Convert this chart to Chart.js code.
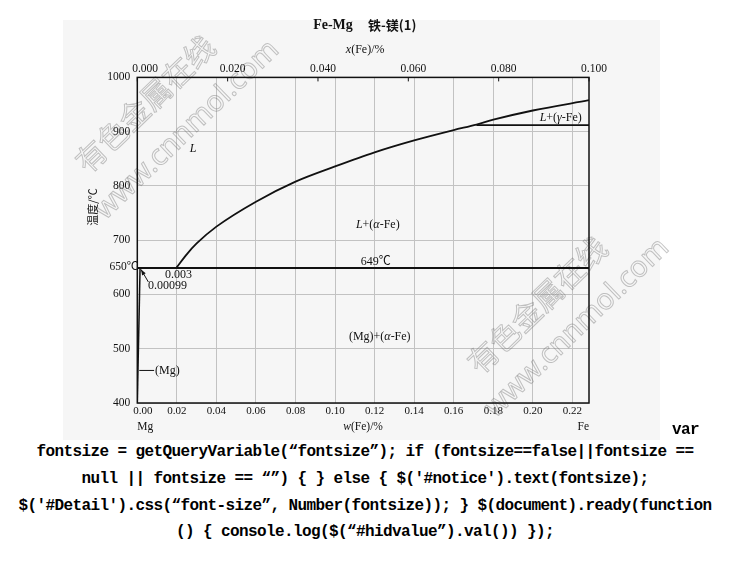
<!DOCTYPE html>
<html>
<head>
<meta charset="utf-8">
<script src="https://cdn.jsdelivr.net/npm/chart.js@4.4.1/dist/chart.umd.min.js"></script>
<style>
  body { margin: 0; background: #fff; width: 730px; height: 581px; overflow: hidden; position: relative; }
  #bg { position: absolute; left: 63px; top: 20px; width: 597px; height: 420px; background: #f6f6f6; }
  #wrap { position: absolute; left: 0; top: 0; width: 730px; height: 440px; }
  .code { position: absolute; left: 0; width: 730px; text-align: center; white-space: pre;
          font: bold 16px "Liberation Mono", "DejaVu Sans Mono", monospace; letter-spacing: -0.6px;
          line-height: 20px; color: #000; }
</style>
</head>
<body>
<div id="bg"></div>
<div id="wrap"><canvas id="phase" width="730" height="440"></canvas></div>
<div class="code" style="left:672px; width:auto; top:420px;">var</div>
<div class="code" style="top:442px;">fontsize = getQueryVariable(“fontsize”); if (fontsize==false||fontsize ==</div>
<div class="code" style="top:469px;">null || fontsize == “”) { } else { $('#notice').text(fontsize);</div>
<div class="code" style="top:496px;">$('#Detail').css(“font-size”, Number(fontsize)); } $(document).ready(function</div>
<div class="code" style="top:522px;">() { console.log($(“#hidvalue”).val()) });</div>
<script>
// Fe-Mg phase diagram (w(Fe) in %, T in °C)

const liqW = [0.0199, 0.025, 0.030, 0.040, 0.060, 0.080, 0.100, 0.120, 0.140, 0.160, 0.1715, 0.180, 0.200, 0.2284];
const liqT = [650, 674, 694, 725, 771, 808, 836, 862, 884, 903, 913, 922, 939, 958];

const gammaW = [0.1715, 0.2284];
const gammaT = [912, 912];

const eutW = [0, 0.2284];
const eutT = [649, 649];

const solvW = [0, 0.0014];
const solvT = [400, 649];

const wMax = 0.2284;   // w(Fe)/% at right edge
const xMax = 0.100;    // x(Fe)/% at right edge
const yTicks = [400, 500, 600, 700, 800, 900, 1000];

const SERIF = '"Liberation Serif", "Times New Roman", "Noto Sans CJK SC", serif';
const CJK = '"Noto Sans CJK SC", sans-serif';

// text labels inside the plot: [w, T, parts, align]
const labels = [
  [0.0282, 868, [{t: 'L', i: true}], 'center'],
  [0.1216, 728, [{t: 'L', i: true}, {t: '+('}, {t: 'α', i: true}, {t: '-Fe)'}], 'center'],
  [0.1206, 660, [{t: '649℃'}], 'center'],
  [0.1226, 522, [{t: '(Mg)+('}, {t: 'α', i: true}, {t: '-Fe)'}], 'center'],
  [0.2141, 926, [{t: 'L', i: true}, {t: '+('}, {t: 'γ', i: true}, {t: '-Fe)'}], 'center'],
  [0.0208, 637, [{t: '0.003'}], 'center'],
  [0.0054, 615, [{t: '0.00099'}], 'left'],
  [0.0090, 460, [{t: '(Mg)'}], 'left']
];

function pts(xs, ys) {
  return xs.map((x, i) => ({x: x, y: ys[i]}));
}

function drawRich(ctx, parts, x, y, align, size, bold) {
  let total = 0;
  const f = p => (p.i ? 'italic ' : '') + (bold ? 'bold ' : '') + size + 'px ' + SERIF;
  parts.forEach(p => {
    ctx.font = f(p);
    p.w = ctx.measureText(p.t).width;
    total += p.w;
  });
  let cx = align === 'left' ? x : (align === 'right' ? x - total : x - total / 2);
  ctx.textAlign = 'left';
  ctx.textBaseline = 'middle';
  parts.forEach(p => {
    ctx.font = f(p);
    ctx.fillText(p.t, cx, y);
    cx += p.w;
  });
}

function watermark(ctx, text, cx, cy, size, font) {
  ctx.save();
  ctx.translate(cx, cy);
  ctx.rotate(-44 * Math.PI / 180);
  ctx.font = size + 'px ' + font;
  ctx.textAlign = 'center';
  ctx.textBaseline = 'middle';
  ctx.strokeStyle = 'rgba(110,110,110,0.4)';
  ctx.lineWidth = 1;
  ctx.strokeText(text, 0, 0);
  ctx.restore();
}

const extras = {
  id: 'extras',
  beforeDatasetsDraw(chart) {
    const ctx = chart.ctx;
    watermark(ctx, '有色金属在线', 145, 104, 30, CJK);
    watermark(ctx, 'www.cnnmol.com', 187, 130, 29, '"Noto Sans", sans-serif');
    watermark(ctx, '有色金属在线', 537, 305, 30, CJK);
    watermark(ctx, 'www.cnnmol.com', 577, 328, 29, '"Noto Sans", sans-serif');
  },
  afterDatasetsDraw(chart) {
    const ctx = chart.ctx;
    const a = chart.chartArea;
    const sx = chart.scales.x, sy = chart.scales.y, st = chart.scales.x2;
    ctx.save();
    // frame
    ctx.strokeStyle = '#111';
    ctx.lineWidth = 1.5;
    ctx.strokeRect(a.left, a.top, a.right - a.left, a.bottom - a.top);
    // inner tick marks of the top axis
    ctx.lineWidth = 1;
    st.ticks.forEach((t, i) => {
      const px = st.getPixelForTick(i);
      ctx.beginPath();
      ctx.moveTo(px, a.top);
      ctx.lineTo(px, a.top + 4);
      ctx.stroke();
    });
    ctx.fillStyle = '#111';
    // labels in the plot
    labels.forEach(l => {
      drawRich(ctx, l[2], sx.getPixelForValue(l[0]), sy.getPixelForValue(l[1]), l[3], 12);
    });
    // 650 label on the y axis
    drawRich(ctx, [{t: '650℃'}], a.left + 1, sy.getPixelForValue(650), 'right', 11.5);
    // arrow to 0.00099
    const x1 = sx.getPixelForValue(0.0056), y1 = sy.getPixelForValue(623);
    const x2 = sx.getPixelForValue(0.0019), y2 = sy.getPixelForValue(646);
    ctx.beginPath();
    ctx.moveTo(x1, y1);
    ctx.lineTo(x2, y2);
    ctx.stroke();
    const ang = Math.atan2(y2 - y1, x2 - x1);
    ctx.beginPath();
    ctx.moveTo(x2, y2);
    ctx.lineTo(x2 - 6 * Math.cos(ang - 0.35), y2 - 6 * Math.sin(ang - 0.35));
    ctx.lineTo(x2 - 6 * Math.cos(ang + 0.35), y2 - 6 * Math.sin(ang + 0.35));
    ctx.closePath();
    ctx.fill();
    // leader for (Mg)
    ctx.beginPath();
    ctx.moveTo(sx.getPixelForValue(0.001), sy.getPixelForValue(460));
    ctx.lineTo(sx.getPixelForValue(0.0085), sy.getPixelForValue(460));
    ctx.stroke();
    // main title and axis titles
    drawRich(ctx, [{t: 'Fe-Mg'}], 333, 25, 'center', 14, true);
    ctx.font = 'bold 13px ' + CJK;
    ctx.textAlign = 'left';
    ctx.fillText('铁-镁(1)', 368, 25);
    const mid = (a.left + a.right) / 2;
    drawRich(ctx, [{t: 'x', i: true}, {t: '(Fe)/%'}], mid + 2, 50, 'center', 12);
    drawRich(ctx, [{t: 'w', i: true}, {t: '(Fe)/%'}], mid, 427, 'center', 11.5);
    drawRich(ctx, [{t: 'Mg'}], a.left, 427, 'left', 11.5);
    drawRich(ctx, [{t: 'Fe'}], a.right, 427, 'right', 11.5);
    ctx.translate(93, 207);
    ctx.rotate(-Math.PI / 2);
    ctx.font = '11px ' + CJK;
    ctx.textAlign = 'center';
    ctx.textBaseline = 'middle';
    ctx.fillText('温度/℃', 0, 0);
    ctx.restore();
  }
};

const lineStyle = {borderColor: '#111', pointRadius: 0, showLine: true, fill: false};

const phase = new Chart(document.getElementById('phase').getContext('2d'), {
  type: 'scatter',
  data: {
    datasets: [
      Object.assign({label: 'liquidus', data: pts(liqW, liqT), borderWidth: 1.8, cubicInterpolationMode: 'monotone'}, lineStyle),
      Object.assign({label: 'gamma', data: pts(gammaW, gammaT), borderWidth: 1.8}, lineStyle),
      Object.assign({label: 'eutectic', data: pts(eutW, eutT), borderWidth: 2}, lineStyle),
      Object.assign({label: 'solvus', data: pts(solvW, solvT), borderWidth: 1.5}, lineStyle)
    ]
  },
  plugins: [extras],
  options: {
    responsive: false,
    animation: false,
    devicePixelRatio: 1,
    layout: {padding: {left: 0, right: 141, top: 0, bottom: 0}},
    plugins: {
      legend: {display: false},
      tooltip: {enabled: false},
      title: {display: false}
    },
    scales: {
      x: {
        type: 'linear',
        position: 'bottom',
        min: 0,
        max: wMax,
        afterFit: s => { s.height = 37; },
        border: {display: false},
        grid: {color: '#c2c2c2', lineWidth: 1, drawTicks: false},
        ticks: {
          stepSize: 0.02,
          includeBounds: false,
          padding: 2,
          color: '#111',
          font: {family: SERIF, size: 11},
          maxRotation: 0,
          autoSkip: false,
          callback: v => (v === 0 ? '\u2007\u2007' : '') + Number(v).toFixed(2)
        }
      },
      x2: {
        type: 'linear',
        position: 'top',
        min: 0,
        max: xMax,
        afterFit: s => { s.height = 77.4; },
        border: {display: false},
        grid: {display: false, drawTicks: false},
        ticks: {
          stepSize: 0.02,
          includeBounds: false,
          padding: 2,
          labelOffset: 5,
          color: '#111',
          font: {family: SERIF, size: 11.5},
          maxRotation: 0,
          autoSkip: false,
          callback: v => (v === 0 ? '\u2007' : '') + Number(v).toFixed(3)
        }
      },
      y: {
        type: 'linear',
        min: 400,
        max: 1000,
        afterFit: s => { s.width = 137.3; },
        afterBuildTicks: s => { s.ticks = yTicks.map(v => ({value: v})); },
        border: {display: false},
        grid: {color: '#c2c2c2', lineWidth: 1, drawTicks: false},
        ticks: {
          padding: 7,
          color: '#111',
          font: {family: SERIF, size: 11.5},
          callback: v => String(v)
        }
      }
    }
  }
});
</script>
</body>
</html>
